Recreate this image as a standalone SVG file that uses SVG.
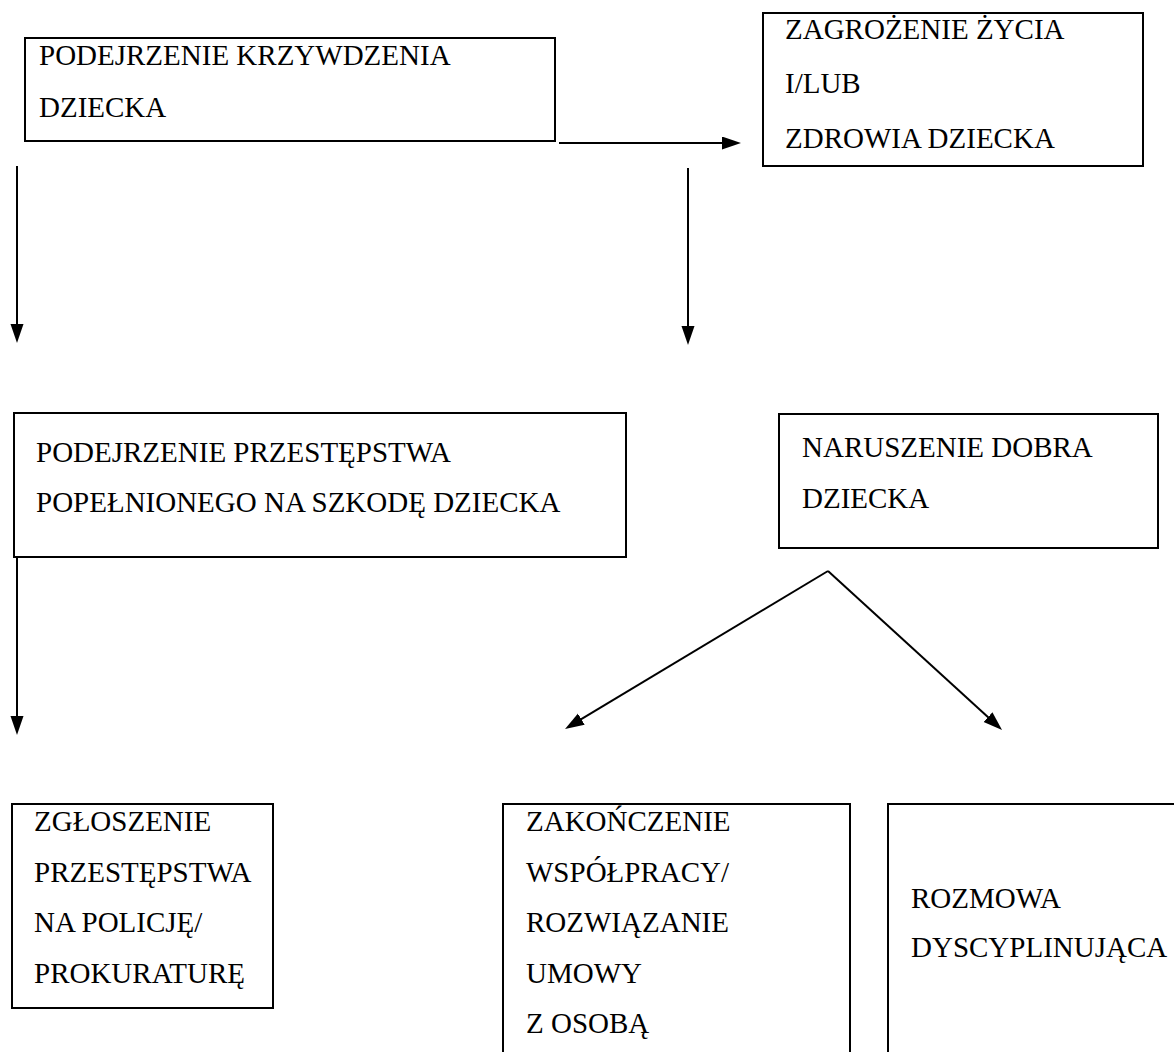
<svg xmlns="http://www.w3.org/2000/svg" width="1174" height="1052" viewBox="0 0 1174 1052">
<style>
.box{fill:none;stroke:#000;stroke-width:2}
.t{font-family:'Liberation Serif','Times New Roman','DejaVu Serif',serif;font-size:29px;fill:#000}
.c{fill:none;stroke:#000;stroke-width:2}
</style>
<defs>
<marker id="ah" markerUnits="userSpaceOnUse" markerWidth="20" markerHeight="14" refX="2" refY="6.5" orient="auto">
<path d="M0,0 L19,6.5 L0,13 z" fill="#000"/>
</marker>
</defs>
<rect width="1174" height="1052" fill="#fff"/>
<g id="n1">
<rect class="box" x="25" y="38" width="530" height="103"/>
<text class="t" x="39" y="65">PODEJRZENIE KRZYWDZENIA</text>
<text class="t" x="39" y="117">DZIECKA</text>
</g>
<g id="n2">
<rect class="box" x="763" y="13" width="380" height="153"/>
<text class="t" x="785" y="39">ZAGROŻENIE ŻYCIA</text>
<text class="t" x="785" y="93">I/LUB</text>
<text class="t" x="785" y="148">ZDROWIA DZIECKA</text>
</g>
<g id="n3">
<rect class="box" x="14" y="413" width="612" height="144"/>
<text class="t" x="36" y="462">PODEJRZENIE PRZESTĘPSTWA</text>
<text class="t" x="36" y="512">POPEŁNIONEGO NA SZKODĘ DZIECKA</text>
</g>
<g id="n4">
<rect class="box" x="779" y="414" width="379" height="134"/>
<text class="t" x="802" y="457">NARUSZENIE DOBRA</text>
<text class="t" x="802" y="508">DZIECKA</text>
</g>
<g id="n5">
<rect class="box" x="12" y="804" width="261" height="204"/>
<text class="t" x="34" y="831">ZGŁOSZENIE</text>
<text class="t" x="34" y="882">PRZESTĘPSTWA</text>
<text class="t" x="34" y="932">NA POLICJĘ/</text>
<text class="t" x="34" y="983">PROKURATURĘ</text>
</g>
<g id="n6">
<path class="box" d="M503,1060 V804 H850 V1060"/>
<text class="t" x="526" y="831">ZAKOŃCZENIE</text>
<text class="t" x="526" y="882">WSPÓŁPRACY/</text>
<text class="t" x="526" y="932">ROZWIĄZANIE</text>
<text class="t" x="526" y="983">UMOWY</text>
<text class="t" x="526" y="1033">Z OSOBĄ</text>
</g>
<g id="n7">
<path class="box" d="M888,1060 V804 H1180"/>
<text class="t" x="911" y="908">ROZMOWA</text>
<text class="t" x="911" y="957">DYSCYPLINUJĄCA</text>
</g>
<g id="connectors">
<line class="c" x1="559" y1="143" x2="724" y2="143" marker-end="url(#ah)"/>
<line class="c" x1="17" y1="166" x2="17" y2="326" marker-end="url(#ah)"/>
<line class="c" x1="688" y1="168" x2="688" y2="328" marker-end="url(#ah)"/>
<line class="c" x1="17" y1="558" x2="17" y2="718" marker-end="url(#ah)"/>
<line class="c" x1="828" y1="571" x2="579.6" y2="720.2" marker-end="url(#ah)"/>
<line class="c" x1="828" y1="571" x2="989.5" y2="718.5" marker-end="url(#ah)"/>
</g>
</svg>
